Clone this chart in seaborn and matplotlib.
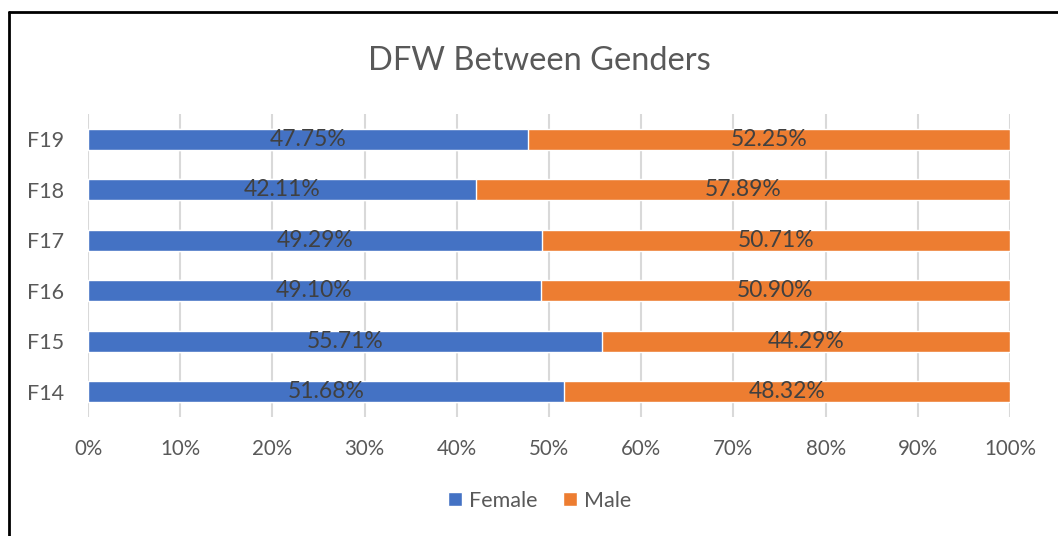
import pandas as pd
import matplotlib
matplotlib.use("Agg")
import matplotlib.pyplot as plt
from matplotlib.lines import Line2D
from matplotlib.patches import Patch
import seaborn as sns

# data
terms = ["F14", "F15", "F16", "F17", "F18", "F19"]
female = [51.68, 55.71, 49.10, 49.29, 42.11, 47.75]
male = [48.32, 44.29, 50.90, 50.71, 57.89, 52.25]
x_ticks = [0, 10, 20, 30, 40, 50, 60, 70, 80, 90, 100]

blue = "#4472C4"
orange = "#ED7D31"
grey = "#595959"

df = pd.DataFrame({"term": terms, "Female": female, "Male": male})
df["total"] = df["Female"] + df["Male"]
order = terms[::-1]

sns.set_theme(style="white")
plt.rcParams["font.family"] = ["Lato", "DejaVu Sans"]

fig = plt.figure(figsize=(10.58, 5.36), dpi=100)
ax = fig.add_axes([0.0832, 0.222, 0.9546 - 0.0832, 0.565])

# stacked: full bar in orange, female part on top in blue
sns.barplot(data=df, x="total", y="term", order=order, orient="h",
            color=orange, width=0.42, saturation=1, ax=ax, zorder=3)
sns.barplot(data=df, x="Female", y="term", order=order, orient="h",
            color=blue, width=0.42, saturation=1, ax=ax, zorder=4)

# data labels
for i, t in enumerate(order):
    row = df[df["term"] == t].iloc[0]
    ax.text(row["Female"] / 2, i, f"{row['Female']:.2f}%", ha="center", va="center",
            fontsize=16.5, color="#404040", zorder=5)
    ax.text(row["Female"] + row["Male"] / 2, i, f"{row['Male']:.2f}%", ha="center",
            va="center", fontsize=16.5, color="#404040", zorder=5)

ax.set_xlim(0, 100)
ax.set_ylim(5.5, -0.5)
ax.set_xticks(x_ticks)
ax.set_xticklabels([f"{v}%" for v in x_ticks])
ax.tick_params(axis="x", length=0, labelsize=14.8, colors=grey, pad=16)
ax.tick_params(axis="y", length=0, labelsize=15.5, colors=grey, pad=17)
ax.set_xlabel("")
ax.set_ylabel("")
ax.grid(axis="x", color="#D9D9D9", linewidth=1.5, zorder=0)
ax.set_axisbelow(True)
for s in ax.spines.values():
    s.set_visible(False)

fig.text(0.51, 0.886, "DFW Between Genders", ha="center", va="center",
         fontsize=23.5, color=grey)

handles = [Patch(facecolor=blue, label="Female"), Patch(facecolor=orange, label="Male")]
fig.legend(handles=handles, loc="center", bbox_to_anchor=(0.51, 0.066), ncol=2,
           frameon=False, fontsize=15.5, handlelength=0.65, handleheight=0.65,
           handletextpad=0.3, columnspacing=1.2, labelcolor=grey)

# black frame on top and left
fig.add_artist(Line2D([9 / 1058, 1], [1 - 12 / 536, 1 - 12 / 536], color="black",
                      linewidth=2, transform=fig.transFigure))
fig.add_artist(Line2D([9 / 1058, 9 / 1058], [0, 1 - 12 / 536], color="black",
                      linewidth=2, transform=fig.transFigure))

fig.savefig("out.png", dpi=100, facecolor="white")
